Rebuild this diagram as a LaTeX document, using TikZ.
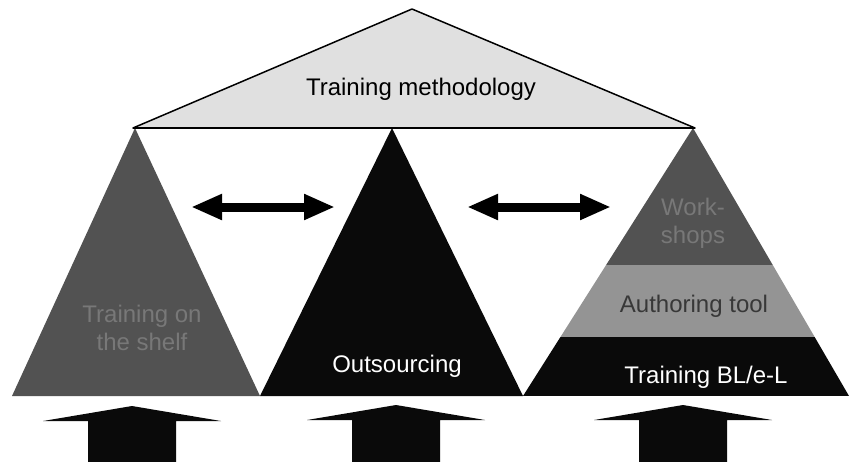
\documentclass[tikz,border=0pt]{standalone}
\usepackage{fontspec}
\setmainfont{Liberation Sans}
\usepackage{tikz}
\usetikzlibrary{arrows.meta, positioning}
\definecolor{methgray}{gray}{0.88}
\definecolor{shelfgray}{gray}{0.32}
\definecolor{toolgray}{gray}{0.58}
\definecolor{darkink}{gray}{0.04}
\definecolor{shelftext}{gray}{0.47}
\definecolor{tooltext}{gray}{0.22}
\tikzset{
	labelnode/.style={
			font=\fontsize{24}{28}\selectfont,
			align=center,
			inner sep=0pt,
			anchor=base
		},
	linkarrow/.style={
			line width=9pt,
			arrows={Triangle[length=31pt,width=24pt]-Triangle[length=31pt,width=24pt]}
		},
	pusharrow/.style={
			fill=darkink
		},
	roofline/.style={
			draw=black,
			fill=methgray,
			line width=1.5pt,
			line join=round
		}
}

\begin{document}
\begin{tikzpicture}[x=1pt, y=-1pt]
\useasboundingbox (0,0) rectangle (850,461);

\coordinate (mL) at (133,128);
\coordinate (mT) at (412,9);
\coordinate (mR) at (695,128);
\coordinate (sL) at (12,396);
\coordinate (sT) at (135,128);
\coordinate (oL) at (260,396);
\coordinate (oT) at (392,128);
\coordinate (bL) at (523,396);
\coordinate (bT) at (693,128);
\coordinate (bR) at (849,396);

\fill[shelfgray] (sL) -- (sT) -- (oL) -- cycle;
\fill[darkink] (oL) -- (oT) -- (bL) -- cycle;
\begin{scope}
\clip (bL) -- (bT) -- (bR) -- cycle;
\fill[shelfgray] (500,120) rectangle (850,265);
\fill[toolgray] (500,265) rectangle (850,337);
\fill[darkink] (500,337) rectangle (850,396);
\end{scope}

\path[roofline] (mL) -- (mT) -- (mR) -- cycle;
\draw[line width=2pt] (mL) -- (mR);

\node[labelnode] (meth) at (421,95) {Training methodology};
\node[labelnode, text=shelftext] (shelf) at (142,350) {Training on\\the shelf};
\node[labelnode, text=white] (outs) at (397,372) {Outsourcing};
\node[labelnode, text=shelftext] (work) at (693,243) {Work-\\shops};
\node[labelnode, text=tooltext] (tool) at (694,312) {Authoring tool};
\node[labelnode, text=white] (blel) at (706,383) {Training BL/e-L};

\coordinate (la) at (191,207);
\coordinate (lb) at (335,207);
\coordinate (ra) at (467,207);
\coordinate (rb) at (611,207);
\draw[linkarrow] (la) -- (lb);
\draw[linkarrow] (ra) -- (rb);

\fill[pusharrow] (132,406) -- ++(89,15) -- ++(-45,0) -- ++(0,45) -- ++(-88,0) -- ++(0,-45) -- ++(-45,0) -- cycle;
\fill[pusharrow] (396,405) -- ++(89,15) -- ++(-45,0) -- ++(0,45) -- ++(-88,0) -- ++(0,-45) -- ++(-45,0) -- cycle;
\fill[pusharrow] (683,405) -- ++(89,15) -- ++(-45,0) -- ++(0,45) -- ++(-88,0) -- ++(0,-45) -- ++(-45,0) -- cycle;
\end{tikzpicture}
\end{document}
